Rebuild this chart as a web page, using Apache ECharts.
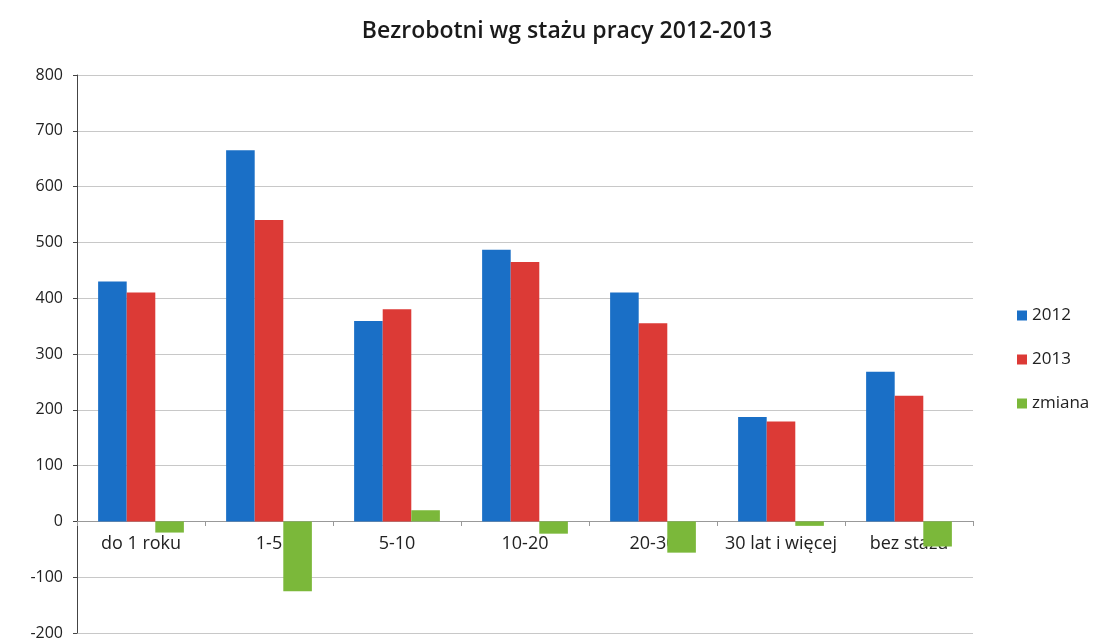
<!DOCTYPE html>
<html>
<head>
<meta charset="utf-8">
<script src="https://cdn.jsdelivr.net/npm/echarts@6/dist/echarts.min.js"></script>
<style>
  html, body { margin: 0; padding: 0; background: #fff; }
  #chart { width: 1099px; height: 642px; }
</style>
</head>
<body>
<div id="chart"></div>
<script>
var categories = ['do 1 roku', '1-5', '5-10', '10-20', '20-30', '30 lat i więcej', 'bez stażu']
var values2012 = [430, 665, 359, 487, 410, 187, 268]
var values2013 = [410, 540, 380, 465, 355, 179, 225]
var zmiana = [-20, -125, 20, -22, -56, -8, -45]

var chart = echarts.init(document.getElementById('chart'))

chart.setOption({
  animation: false,
  textStyle: { fontFamily: 'Open Sans' },
  title: {
    text: 'Bezrobotni wg stażu pracy 2012-2013',
    left: 562,
    top: 15,
    textAlign: 'center',
    textStyle: { fontSize: 23, fontWeight: 600, color: '#1a1a1a', fontFamily: 'Open Sans' }
  },
  legend: {
    orient: 'vertical',
    left: 1012,
    top: 302,
    itemWidth: 10,
    itemHeight: 10,
    itemGap: 27,
    icon: 'rect',
    textStyle: { fontSize: 17, color: '#222' },
    data: ['2012', '2013', 'zmiana']
  },
  grid: {
    left: 77,
    right: 126,
    top: 75,
    bottom: 9,
    containLabel: false
  },
  xAxis: {
    type: 'category',
    data: categories,
    // axis sits on the zero line (labels too), so shift it up from the bottom
    offset: -112,
    axisLine: { onZero: false, lineStyle: { color: '#999' } },
    axisTick: { show: true, length: 5, lineStyle: { color: '#999' } },
    axisLabel: { interval: 0, margin: 14, fontSize: 18, color: '#222' }
  },
  yAxis: {
    type: 'value',
    min: -200,
    max: 800,
    interval: 100,
    axisLine: { show: true, lineStyle: { color: '#444' } },
    axisTick: { show: true, length: 4, lineStyle: { color: '#444' } },
    axisLabel: { fontSize: 16, color: '#222', margin: 14 },
    splitLine: { lineStyle: { color: '#c8c8c8', width: 1 } }
  },
  series: [
    {
      name: '2012',
      type: 'bar',
      data: values2012,
      barGap: '0%',
      barCategoryGap: '33%',
      itemStyle: { color: '#1a6fc6' }
    },
    {
      name: '2013',
      type: 'bar',
      data: values2013,
      itemStyle: { color: '#dc3a36' }
    },
    {
      name: 'zmiana',
      type: 'bar',
      data: zmiana,
      itemStyle: { color: '#7bb83a' }
    }
  ]
})
</script>
</body>
</html>
